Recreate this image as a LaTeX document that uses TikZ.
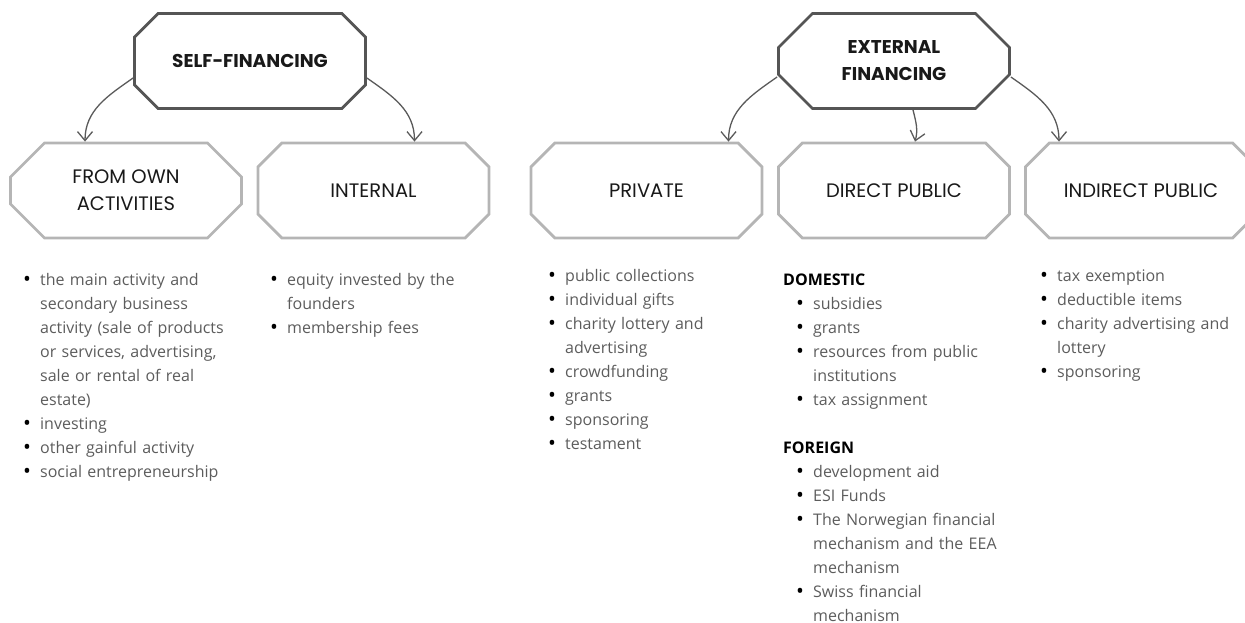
\documentclass[tikz,border=0pt]{standalone}
\usepackage{fontspec}
\setmainfont{Open Sans}
\newfontfamily\boxfont{Poppins}
\usetikzlibrary{shapes.misc,arrows.meta}

\definecolor{boxdark}{HTML}{555555}
\definecolor{boxlight}{HTML}{B5B5B5}
\definecolor{listgray}{HTML}{5C5C5C}
\definecolor{arrowgray}{HTML}{5A5A5A}

\newcommand{\bitem}[2][0pt]{\leavevmode\hangindent=\dimexpr#1+17pt\relax\hangafter=1\hspace*{#1}%
  \makebox[17pt][l]{\raisebox{-1.4pt}{\fontsize{21}{24}\selectfont\textcolor{black}{\textbullet}}}#2\par}

\begin{document}
\begin{tikzpicture}[x=1pt,y=1pt,
  topbox/.style={chamfered rectangle, chamfered rectangle xsep=17pt, chamfered rectangle ysep=17pt,
    draw=boxdark, line width=2.8pt, minimum width=231pt, minimum height=95pt, inner sep=0pt,
    align=center, font=\boxfont\bfseries\fontsize{18.5}{27}\selectfont, text=black!90},
  subbox/.style={topbox, draw=boxlight, font=\boxfont\fontsize{19.5}{27}\selectfont},
  list/.style={anchor=base west, text width=240pt, align=left, inner sep=0pt,
    font=\fontsize{16}{24}\selectfont, text=listgray},
  link/.style={draw=arrowgray, line width=1.3pt, -{Straight Barb[length=9pt,width=15pt]}}]

\useasboundingbox (0,0) rectangle (1245,-623);

\node[topbox] (self) at (250,-61) {SELF-FINANCING};
\node[topbox] (ext) at (894,-61) {EXTERNAL\\FINANCING};

\node[subbox] (own) at (126,-190.5) {FROM OWN\\ACTIVITIES};
\node[subbox] (int) at (373.5,-190.5) {INTERNAL};
\node[subbox] (priv) at (646.5,-190.5) {PRIVATE};
\node[subbox] (dir) at (894,-190.5) {DIRECT PUBLIC};
\node[subbox] (ind) at (1141,-190.5) {INDIRECT PUBLIC};

\draw[link] ([yshift=-17pt]self.west) to[out=215,in=90] ([xshift=-41pt]own.north);
\draw[link] ([yshift=-17pt]self.east) to[out=-35,in=90] ([xshift=41pt]int.north);
\draw[link] ([yshift=-16pt]ext.west) to[out=215,in=90] ([xshift=82pt]priv.north);
\draw[link] ([xshift=19pt]ext.south) to[out=-76,in=75] ([xshift=21pt]dir.north);
\draw[link] ([yshift=-16pt]ext.east) to[out=-35,in=90] ([xshift=-82pt]ind.north);

\node[list] (ownlist) at (23,-285) {%
\bitem{the main activity and\newline secondary business\newline activity (sale of products\newline or services, advertising,\newline sale or rental of real\newline estate)}
\bitem{investing}
\bitem{other gainful activity}
\bitem{social entrepreneurship}};

\node[list] (intlist) at (270,-285) {%
\bitem{equity invested by the\newline founders}
\bitem{membership fees}};

\node[list] (privlist) at (548,-281) {%
\bitem{public collections}
\bitem{individual gifts}
\bitem{charity lottery and\newline advertising}
\bitem{crowdfunding}
\bitem{grants}
\bitem{sponsoring}
\bitem{testament}};

\node[list] (dirlist) at (783,-285) {%
\noindent{\bfseries\color{black}DOMESTIC}\par
\bitem[13pt]{subsidies}
\bitem[13pt]{grants}
\bitem[13pt]{resources from public\newline institutions}
\bitem[13pt]{tax assignment}
\vspace{24pt}
\noindent{\bfseries\color{black}FOREIGN}\par
\bitem[13pt]{development aid}
\bitem[13pt]{ESI Funds}
\bitem[13pt]{The Norwegian financial\newline mechanism and the EEA\newline mechanism}
\bitem[13pt]{Swiss financial\newline mechanism}};

\node[list] (indlist) at (1040,-281) {%
\bitem{tax exemption}
\bitem{deductible items}
\bitem{charity advertising and\newline lottery}
\bitem{sponsoring}};

\end{tikzpicture}
\end{document}
